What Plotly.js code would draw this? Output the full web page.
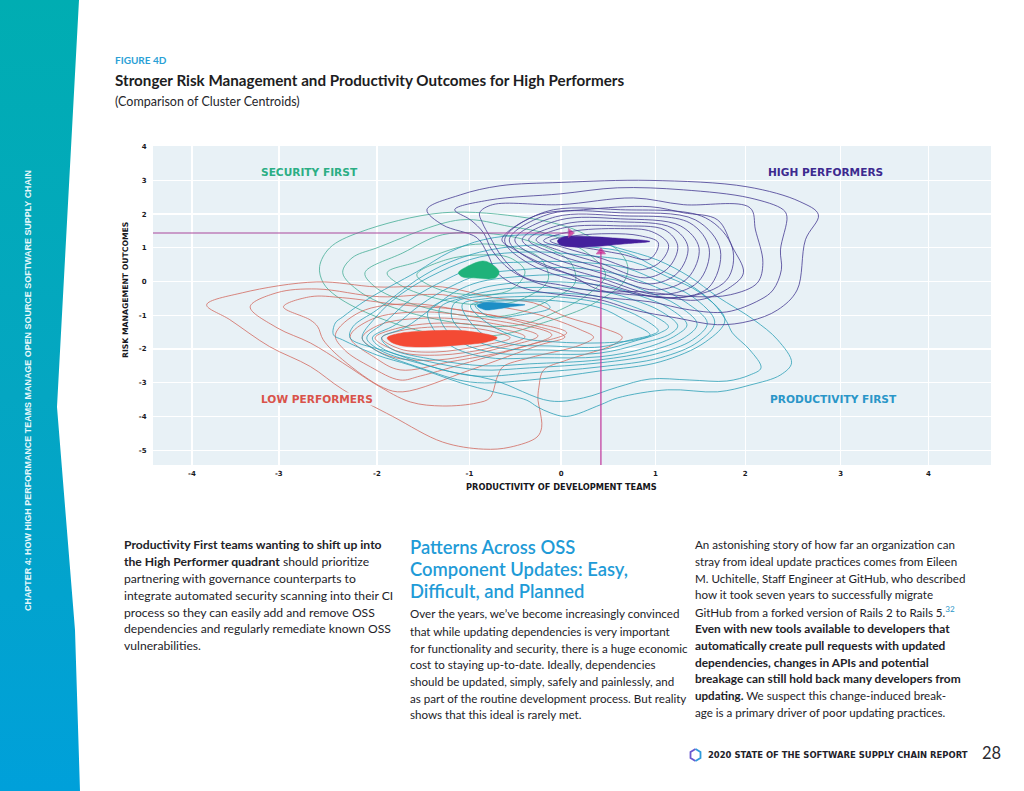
<!DOCTYPE html>
<html>
<head>
<meta charset="utf-8">
<script src="https://cdn.plot.ly/plotly-3.0.1.min.js"></script>
<style>
html,body{margin:0;padding:0;background:#fff;width:1024px;height:791px;overflow:hidden}
#side{position:absolute;left:0;top:0;width:90px;height:791px;background:linear-gradient(180deg,#00adb2 0%,#04a6c2 50%,#00a0da 100%);clip-path:polygon(0 0,79px 0,57px 407px,75px 630px,80px 791px,0 791px)}
#plot{position:absolute;left:0;top:0;width:1024px;height:791px}
</style>
</head>
<body>
<div id="side"></div>
<div id="plot"></div>
<script>
// axis ticks as they appear in the picture
const xTicks=[-3.99,-3.05,-1.99,-0.99,0,1.02,1.99,3.02,3.97];
const xLabels=['-4','-3','-2','-1','0','1','2','3','4'];
const yTicks=[4,3,2,1,0,-1,-2,-3,-4,-5];
const yLabels=['4','3','2','1','0','-1','-2','-3','-4','-5'];

// centroid guide lines
const guideHX=[-4.41,0.1], guideHY=[1.44,1.44];
const guideVX=[0.43,0.43], guideVY=[-5.44,0.88];

// High performers density contours
const high1=[[-1.45,2.13],[-1.09,2.57],[-0.66,2.84],[0,2.94],[0.96,3.0],[2.01,2.81],[2.58,2.37],[2.78,1.98],[2.64,1.24],[2.55,-0.25],[2.34,-0.84],[2.04,-1.17],[1.69,-1.28],[1.25,-1.08],[0.78,-0.84],[0.42,-0.54],[-0.41,-0.19],[-0.69,0.26],[-0.8,0.85],[-0.91,1.3],[-1.28,1.68]];
const high2=[[-1.15,2.13],[-0.77,2.42],[-0.01,2.6],[0.61,2.78],[1.32,2.72],[2.04,2.48],[2.4,2.13],[2.44,1.92],[2.37,0.94],[2.38,0.35],[2.29,-0.25],[2.15,-0.54],[1.79,-0.9],[1.39,-0.84],[0.96,-0.6],[0.42,-0.45],[-0.26,-0.04],[-0.55,0.35],[-0.75,0.94],[-0.84,1.45],[-0.98,1.83]];
const high3=[[-0.88,2.04],[-0.74,2.28],[-0.01,2.28],[0.78,2.48],[1.32,2.28],[2.04,2.19],[2.1,1.53],[2.18,0.56],[2.12,-0.04],[1.83,-0.39],[1.47,-0.45],[0.85,-0.3],[0.42,-0.3],[-0.01,-0.1],[-0.41,0.14],[-0.63,0.7],[-0.77,1.33],[-0.85,1.74]];
const high4=[[-0.64,1.24],[-0.28,1.95],[0.24,2.13],[0.96,2.22],[1.32,2.04],[1.69,1.83],[1.85,1.03],[1.97,0.26],[1.83,-0.16],[1.5,-0.54],[1.07,-0.45],[0.42,-0.25],[0.1,0.2],[-0.23,0.56],[-0.5,0.94]];
const high5=[[-0.61,1.24],[-0.17,2.07],[0.64,2.13],[1.56,1.89],[1.85,1.0],[1.79,0.05],[1.29,-0.48],[0.42,-0.13],[-0.34,0.52]];
const high6=[[-0.56,1.24],[-0.12,2.01],[0.64,2.04],[1.45,1.83],[1.72,0.94],[1.59,-0.19],[1.12,-0.48],[0.42,-0.01],[-0.28,0.58]];
const high7=[[-0.5,1.24],[-0.06,1.92],[0.64,1.95],[1.39,1.74],[1.6,0.97],[1.48,-0.01],[1.07,-0.39],[0.42,0.11],[-0.21,0.67]];
const high8=[[-0.42,1.24],[-0.01,1.83],[0.64,1.86],[1.29,1.65],[1.49,1.0],[1.37,0.11],[1.02,-0.25],[0.42,0.26],[-0.14,0.76]];
const high9=[[-0.35,1.24],[0.04,1.71],[0.64,1.77],[1.2,1.59],[1.37,1.03],[1.26,0.26],[0.96,-0.07],[0.42,0.41],[-0.06,0.82]];
const high10=[[-0.27,1.24],[0.04,1.6],[0.64,1.65],[1.12,1.53],[1.26,1.06],[1.16,0.41],[0.91,0.11],[0.42,0.55],[-0.01,0.91]];
const high11=[[-0.19,1.21],[0.1,1.48],[0.64,1.57],[0.98,1.48],[1.16,1.09],[1.07,0.58],[0.85,0.35],[0.42,0.7],[0.04,1.0]];
const high12=[[-0.12,1.21],[0.15,1.36],[0.53,1.42],[0.85,1.36],[1.05,1.15],[0.96,0.67],[0.64,0.82],[0.26,1.0],[-0.01,1.09]];

// Security first density contours
const sec1=[[-2.61,0.44],[-2.5,1.0],[-2.17,1.47],[-1.28,2.04],[-0.37,1.89],[0.1,1.59],[0.31,1.33],[0.61,0.94],[0.72,0.44],[0.67,-0.04],[0.42,-0.54],[0.21,-0.84],[-0.19,-1.22],[-0.66,-1.58],[-1.31,-1.58],[-1.99,-1.05],[-2.42,-0.45],[-2.57,-0.04]];
const sec2=[[-2.36,0.26],[-2.26,0.7],[-1.99,1.0],[-1.09,1.83],[-0.55,1.63],[-0.12,1.39],[0.31,0.79],[0.48,0.2],[0.31,-0.34],[-0.01,-0.84],[-0.44,-1.28],[-0.98,-1.28],[-1.74,-0.84],[-2.17,-0.31]];
const sec3=[[-2.12,0.26],[-1.71,0.85],[-1.28,1.39],[-0.66,1.39],[-0.23,1.09],[0.1,0.58],[0.15,-0.04],[-0.12,-0.54],[-0.55,-0.99],[-1.09,-0.99],[-1.74,-0.54],[-2.01,-0.16]];
const sec4=[[-1.88,0.26],[-1.56,0.58],[-0.98,1.09],[-0.55,1.03],[-0.23,0.7],[-0.14,0.05],[-0.44,-0.54],[-0.88,-0.69],[-1.42,-0.45],[-1.74,-0.1]];
const sec5=[[-1.56,0.2],[-1.25,0.64],[-0.88,0.79],[-0.55,0.7],[-0.39,0.29],[-0.55,-0.25],[-0.98,-0.39],[-1.36,-0.19]];

// Productivity first density contours
const prod1=[[-2.36,-1.05],[-2.1,-0.54],[-1.56,0.29],[-1.2,0.88],[-0.84,1.24],[-0.34,1.39],[0.31,1.24],[0.61,1.0],[1.04,0.64],[1.39,0.14],[1.69,-0.45],[2.08,-1.13],[2.34,-1.73],[2.49,-2.41],[2.37,-2.77],[2.04,-3.07],[1.69,-3.27],[1.15,-3.21],[0.61,-3.45],[0.42,-3.66],[0.06,-4.0],[-0.12,-3.89],[-0.26,-3.71],[-0.37,-3.52],[-0.73,-3.27],[-1.09,-3.0],[-1.63,-2.48],[-1.99,-2.18],[-2.36,-1.73],[-2.46,-1.58],[-2.44,-1.23]];
const prod2=[[-2.25,-1.34],[-1.99,-0.84],[-1.56,0.05],[-1.2,0.58],[-0.77,0.94],[-0.23,1.09],[0.31,1.03],[0.71,0.85],[1.07,0.35],[1.36,-0.04],[1.64,-0.63],[1.79,-1.19],[1.85,-1.52],[2.04,-2.03],[2.16,-2.56],[2.04,-2.77],[1.79,-2.95],[1.39,-2.92],[0.96,-2.89],[0.61,-3.13],[0.24,-3.45],[-0.12,-3.54],[-0.73,-2.92],[-1.28,-2.62],[-1.82,-2.12],[-2.28,-1.67]];
const prod3=[[1.77,-1.14],[1.5,-0.33],[1.15,0.14],[0.78,0.58],[0.21,0.79],[-0.34,0.88],[-0.88,0.73],[-1.31,0.29],[-1.74,-0.39],[-2.01,-1.08],[-2.15,-1.67],[-2.01,-2.03],[-1.52,-2.56],[-0.98,-2.98],[-0.34,-2.92],[0.42,-2.65],[1.07,-2.38],[1.56,-1.79]];
const prod4=[[1.66,-1.2],[1.42,-0.45],[1.07,-0.01],[0.69,0.41],[0.15,0.58],[-0.39,0.58],[-0.88,0.47],[-1.25,0.05],[-1.63,-0.54],[-1.9,-1.2],[-2.1,-1.67],[-1.96,-2.03],[-1.47,-2.47],[-0.93,-2.8],[-0.34,-2.71],[0.42,-2.53],[1.07,-2.26],[1.48,-1.79]];
const prod5=[[1.58,-1.23],[1.34,-0.6],[1.02,-0.16],[0.64,0.2],[0.1,0.41],[-0.44,0.35],[-0.88,0.2],[-1.2,-0.16],[-1.52,-0.69],[-1.79,-1.28],[-2.04,-1.67],[-1.9,-2.03],[-1.42,-2.38],[-0.88,-2.62],[-0.34,-2.56],[0.42,-2.41],[1.02,-2.15],[1.42,-1.73]];
const prod6=[[1.47,-1.26],[1.25,-0.69],[0.94,-0.31],[0.58,0.05],[0.04,0.2],[-0.5,0.14],[-0.88,-0.01],[-1.15,-0.31],[-1.39,-0.78],[-1.69,-1.37],[-1.94,-1.67],[-1.83,-2.0],[-1.36,-2.32],[-0.82,-2.5],[-0.34,-2.44],[0.42,-2.32],[0.96,-2.06],[1.33,-1.67]];
const prod7=[[1.36,-1.28],[1.16,-0.78],[0.85,-0.42],[0.53,-0.16],[-0.01,-0.01],[-0.5,-0.04],[-0.85,-0.19],[-1.09,-0.45],[-1.25,-0.54],[-1.44,-0.9],[-1.36,-1.49],[-1.15,-1.97],[-0.77,-2.26],[-0.23,-2.26],[0.42,-2.23],[0.91,-1.97],[1.25,-1.58]];
const prod8=[[1.26,-1.31],[1.07,-0.87],[0.78,-0.54],[0.48,-0.31],[-0.01,-0.19],[-0.5,-0.19],[-0.82,-0.31],[-1.07,-0.48],[-1.31,-0.78],[-1.28,-1.28],[-1.07,-1.82],[-0.71,-2.12],[-0.23,-2.15],[0.42,-2.12],[0.85,-1.85],[1.18,-1.55]];
const prod9=[[1.16,-1.34],[0.96,-0.96],[0.69,-0.66],[0.42,-0.45],[-0.03,-0.34],[-0.5,-0.34],[-0.82,-0.42],[-1.15,-0.63],[-1.18,-1.08],[-0.98,-1.67],[-0.66,-1.97],[-0.17,-2.03],[0.42,-2.03],[0.8,-1.76],[1.07,-1.52]];
const prod10=[[1.05,-1.46],[0.85,-1.05],[0.62,-0.78],[0.37,-0.6],[-0.06,-0.45],[-0.5,-0.45],[-0.82,-0.51],[-1.07,-0.69],[-0.88,-1.49],[-0.55,-1.85],[-0.12,-1.91],[0.42,-1.94],[0.75,-1.73],[0.98,-1.58]];
const prod11=[[0.96,-1.58],[0.69,-1.14],[0.42,-0.78],[-0.06,-0.57],[-0.5,-0.54],[-0.88,-0.6],[-0.98,-0.72],[-0.77,-1.28],[-0.44,-1.67],[-0.06,-1.79],[0.42,-1.82],[0.8,-1.73]];
const prod12=[[-0.93,-0.69],[-0.77,-0.6],[-0.44,-0.57],[-0.17,-0.63],[-0.12,-0.78],[-0.44,-0.99],[-0.77,-1.05]];

// Low performers density contours
const low1=[[-3.83,-0.69],[-3.44,-0.33],[-2.64,-0.01],[-1.99,-0.16],[-1.28,-0.16],[-0.73,-0.48],[-0.3,-0.63],[0.06,-1.05],[0.42,-1.35],[0.66,-1.65],[0.56,-1.88],[0.06,-2.33],[-0.19,-2.63],[-0.24,-3.13],[-0.25,-3.52],[-0.23,-3.81],[-0.21,-4.32],[-0.26,-4.61],[-0.55,-4.91],[-0.84,-4.97],[-1.28,-4.76],[-1.82,-4.0],[-2.36,-3.2],[-2.71,-2.52],[-3.15,-1.93],[-3.58,-1.13]];
const low2=[[-3.36,-0.75],[-3.07,-0.33],[-2.64,-0.22],[-1.96,-0.45],[-1.28,-0.39],[-0.77,-0.69],[-0.23,-0.99],[0.21,-1.43],[0.35,-1.65],[0.21,-1.88],[-0.34,-2.26],[-0.63,-2.53],[-0.69,-2.83],[-0.77,-3.45],[-0.91,-3.6],[-1.28,-3.69],[-1.63,-3.57],[-1.99,-3.07],[-2.36,-2.41],[-2.71,-1.82],[-3.07,-1.37]];
const low3=[[-3.0,-0.75],[-2.71,-0.45],[-2.36,-0.48],[-1.74,-0.69],[-1.09,-0.84],[-0.44,-1.2],[0.04,-1.64],[-0.23,-1.88],[-0.98,-2.62],[-1.71,-3.27],[-1.92,-3.15],[-2.36,-2.32],[-2.57,-1.73],[-2.63,-1.34],[-2.71,-1.14]];
const low4=[[-2.44,-1.58],[-2.17,-0.9],[-1.63,-0.66],[-0.98,-0.9],[-0.34,-1.2],[0.06,-1.52],[-0.34,-1.88],[-0.98,-2.38],[-1.52,-2.8],[-1.74,-2.92],[-2.06,-2.53],[-2.34,-2.03]];
const low5=[[-2.28,-1.64],[-2.04,-1.11],[-1.52,-0.9],[-0.88,-1.08],[-0.1,-1.58],[-0.55,-2.03],[-1.2,-2.38],[-1.74,-2.62],[-2.01,-2.26]];
const low6=[[-2.15,-1.67],[-1.96,-1.28],[-1.42,-1.08],[-0.77,-1.23],[-0.25,-1.61],[-0.66,-1.97],[-1.31,-2.32],[-1.79,-2.26],[-2.04,-1.97]];
const low7=[[-2.01,-1.67],[-1.79,-1.4],[-1.31,-1.23],[-0.77,-1.34],[-0.39,-1.64],[-0.77,-1.97],[-1.31,-2.18],[-1.74,-2.09]];
const low8=[[-1.94,-1.67],[-1.74,-1.46],[-1.25,-1.34],[-0.77,-1.46],[-0.55,-1.67],[-0.88,-1.91],[-1.36,-2.09],[-1.74,-2.0]];

// Filled cluster centroid shapes
const coreHigh=[[-0.04,1.21],[0.04,1.33],[0.21,1.34],[0.53,1.3],[0.96,1.19],[0.69,1.12],[0.31,1.03],[0.1,1.03],[-0.01,1.09]];
const coreSec=[[-1.11,0.26],[-1.02,0.44],[-0.85,0.61],[-0.77,0.55],[-0.67,0.29],[-0.71,0.11],[-0.95,0.11],[-1.07,0.14]];
const coreProd=[[-0.91,-0.72],[-0.82,-0.62],[-0.66,-0.63],[-0.53,-0.66],[-0.39,-0.69],[-0.55,-0.75],[-0.71,-0.82],[-0.82,-0.84]];
const coreLow=[[-1.88,-1.67],[-1.77,-1.55],[-1.42,-1.46],[-0.98,-1.48],[-0.69,-1.67],[-0.8,-1.79],[-1.09,-1.88],[-1.45,-1.94],[-1.71,-1.91],[-1.84,-1.79]];

const quadrants=['SECURITY FIRST','HIGH PERFORMERS','LOW PERFORMERS','PRODUCTIVITY FIRST'];

const col1=['<b>Productivity First teams wanting to shift up into</b>','<b>the High Performer quadrant</b> should prioritize','partnering with governance counterparts to','integrate automated security scanning into their CI','process so they can easily add and remove OSS','dependencies and regularly remediate known OSS','vulnerabilities.'];
const col2Head=['Patterns Across OSS','Component Updates: Easy,','Difficult, and Planned'];
const col2=['Over the years, we’ve become increasingly convinced','that while updating dependencies is very important','for functionality and security, there is a huge economic','cost to staying up-to-date. Ideally, dependencies','should be updated, simply, safely and painlessly, and','as part of the routine development process. But reality','shows that this ideal is rarely met.'];
const col3=['An astonishing story of how far an organization can','stray from ideal update practices comes from Eileen','M. Uchitelle, Staff Engineer at GitHub, who described','how it took seven years to successfully migrate','GitHub from a forked version of Rails 2 to Rails 5.<sup style="color:#2a96c8">32</sup>','<b>Even with new tools available to developers that</b>','<b>automatically create pull requests with updated</b>','<b>dependencies, changes in APIs and potential</b>','<b>breakage can still hold back many developers from</b>','<b>updating.</b> We suspect this change-induced break-','age is a primary driver of poor updating practices.'];

const BODY='Lato, "Noto Sans", sans-serif';
const LABEL='"DejaVu Sans", Inter, sans-serif';
const C={high:'#453a92',sec:'#45ad96',prod:'#2c9fb6',low:'#d26a60'};

function contour(pts,color){
  const c=pts.concat([pts[0]]);
  return {x:c.map(p=>p[0]),y:c.map(p=>p[1]),mode:'lines',type:'scatter',hoverinfo:'skip',showlegend:false,
    line:{color:color,width:0.8,shape:'spline',smoothing:1}};
}
function core(pts,color){
  const c=pts.concat([pts[0]]);
  return {x:c.map(p=>p[0]),y:c.map(p=>p[1]),mode:'lines',type:'scatter',fill:'toself',fillcolor:color,hoverinfo:'skip',showlegend:false,
    line:{color:color,width:0.5,shape:'spline',smoothing:1}};
}
const traces=[];
[sec1,sec2,sec3,sec4,sec5].forEach(p=>traces.push(contour(p,C.sec)));
[low1,low2,low3,low4,low5,low6,low7,low8].forEach(p=>traces.push(contour(p,C.low)));
[prod1,prod2,prod3,prod4,prod5,prod6,prod7,prod8,prod9,prod10,prod11,prod12].forEach(p=>traces.push(contour(p,C.prod)));
[high1,high2,high3,high4,high5,high6,high7,high8,high9,high10,high11,high12].forEach(p=>traces.push(contour(p,C.high)));
traces.push(core(coreSec,'#1fb27a'),core(coreProd,'#1c8fc6'),core(coreLow,'#f44a34'),core(coreHigh,'#44209c'));
traces.push({x:guideHX,y:guideHY,mode:'lines+markers',type:'scatter',hoverinfo:'skip',showlegend:false,
  line:{color:'#a9479b',width:1},marker:{symbol:'triangle-right',size:[0,8],color:'#cf0f83'}});
traces.push({x:guideVX,y:guideVY,mode:'lines+markers',type:'scatter',hoverinfo:'skip',showlegend:false,
  line:{color:'#c0359a',width:1.2},marker:{symbol:'triangle-up',size:[0,8],color:'#cf0f83'}});

const W=1024,H=791;
function txt(text,x,y,size,color,family,extra,fontExtra){
  return Object.assign({text:text,xref:'paper',yref:'paper',x:x/W,y:1-y/H,xanchor:'left',yanchor:'middle',showarrow:false,borderpad:0,
    font:Object.assign({size:size,color:color,family:family},fontExtra||{})},extra||{});
}
const ann=[];
ann.push(txt('<b>FIGURE 4D</b>',114,60,10,'#2a9fd6',BODY));
ann.push(txt('<b>Stronger Risk Management and Productivity Outcomes for High Performers</b>',114,79.5,15.2,'#1d1d22',BODY));
ann.push(txt('(Comparison of Cluster Centroids)',114,102,12.5,'#26262b',BODY));
ann.push(txt('<b>RISK MANAGEMENT OUTCOMES</b>',126,290,7.7,'#17171c',LABEL,{xanchor:'center',textangle:-90}));
ann.push(txt('<b>PRODUCTIVITY OF DEVELOPMENT TEAMS</b>',561,487,8.25,'#17171c',LABEL,{xanchor:'center'}));
ann.push(txt('<b>CHAPTER 4: HOW HIGH PERFORMANCE TEAMS MANAGE OPEN SOURCE SOFTWARE SUPPLY CHAIN</b>',28,391,8.95,'#e9f8fb','"Liberation Sans", Arial, sans-serif',{xanchor:'center',textangle:-90}));
// quadrant labels, placed in data units
const quadX=[-3.25,2.22,-3.25,2.25], quadY=[3.25,3.25,-3.48,-3.48], quadC=['#2bae84','#3c2a8f','#d9534a','#2a96c8'];
quadrants.forEach((q,i)=>ann.push({text:'<b>'+q+'</b>',x:quadX[i],y:quadY[i],xref:'x',yref:'y',xanchor:'left',yanchor:'middle',showarrow:false,borderpad:0,
  bgcolor:i===2?'#e8f1f6':'rgba(0,0,0,0)',font:{size:10.6,color:quadC[i],family:LABEL}}));
const col1Y=[544,561,578,595,612,628,645];
col1.forEach((t,i)=>ann.push(txt(t,123,col1Y[i],12.15,'#222227',BODY)));
const headY=[547,569,591];
col2Head.forEach((t,i)=>ann.push(txt(t,409,headY[i],18.4,'#1f9bd7',BODY,null,{weight:600})));
const col2Y=[613,631,648,664,681,698,714];
col2.forEach((t,i)=>ann.push(txt(t,409,col2Y[i],11.6,'#222227',BODY)));
const col3Y=[544,561,578,594,611,628,645,662,678,695,712];
const col3Size=[11.6,11.6,11.6,11.6,11.6,11.9,11.9,11.9,11.9,11.6,11.6];
col3.forEach((t,i)=>ann.push(txt(t,694,col3Y[i],col3Size[i],'#222227',BODY)));
ann.push(txt('<b>2020 STATE OF THE SOFTWARE SUPPLY CHAIN REPORT</b>',707,755,8.45,'#22222a',LABEL));
ann.push(txt('28',981,753,16.5,'#2a2a30',BODY));

function hexPath(pts){return 'M'+pts.map(p=>(p[0]/W).toFixed(5)+','+(1-p[1]/H).toFixed(5)).join('L');}
const shapes=[
 {type:'path',xref:'paper',yref:'paper',path:hexPath([[695.5,749],[690.5,752],[690.5,758],[695.5,761]]),line:{color:'#6a58cf',width:1.8}},
 {type:'path',xref:'paper',yref:'paper',path:hexPath([[695.5,749],[700.5,752],[700.5,758],[695.5,761]]),line:{color:'#2e9bdc',width:1.8}}
];

const tickFont={size:7,color:'#1a1a1f',family:LABEL,weight:700};
Plotly.newPlot('plot',traces,{
  width:W,height:H,autosize:false,margin:{l:0,r:0,t:0,b:0,pad:0},
  paper_bgcolor:'rgba(0,0,0,0)',plot_bgcolor:'#e8f1f6',showlegend:false,
  xaxis:{domain:[153/W,991/W],range:[-4.41,4.645],tickmode:'array',tickvals:xTicks,ticktext:xLabels,showgrid:true,gridcolor:'#ffffff',gridwidth:1.3,zeroline:false,showline:false,ticks:'outside',ticklen:2,tickcolor:'rgba(0,0,0,0)',tickfont:tickFont},
  yaxis:{domain:[(H-465)/H,(H-146)/H],range:[-5.44,4.02],tickmode:'array',tickvals:yTicks,ticktext:yLabels,showgrid:true,gridcolor:'#ffffff',gridwidth:1.3,zeroline:false,showline:false,ticks:'outside',ticklen:4,tickcolor:'rgba(0,0,0,0)',tickfont:tickFont},
  annotations:ann,shapes:shapes
},{displayModeBar:false,staticPlot:true});
</script>
</body>
</html>
